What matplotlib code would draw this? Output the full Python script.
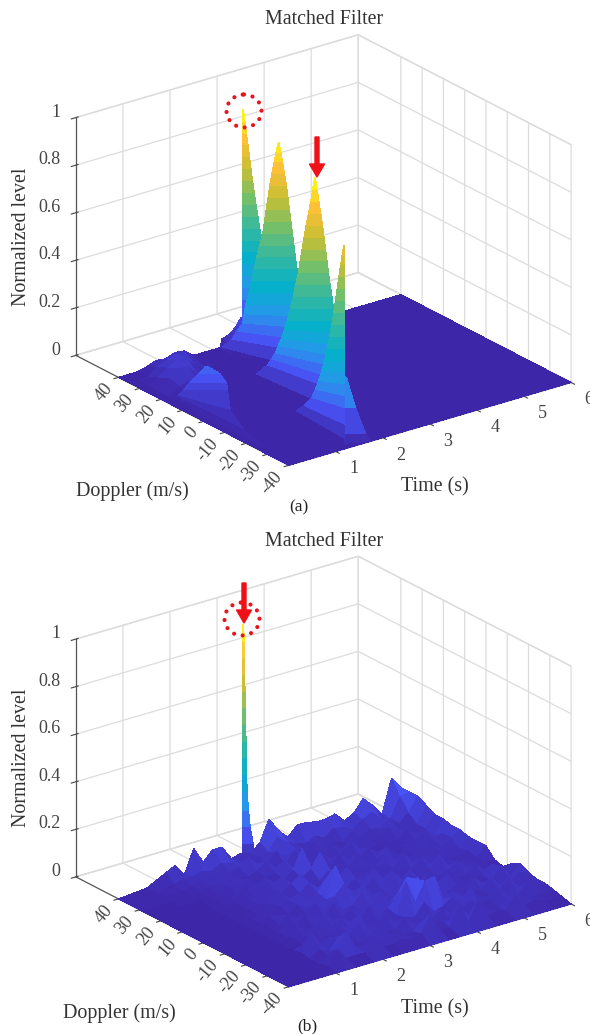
#!/usr/bin/env python
"""Matched filter delay-Doppler surfaces, panels (a) and (b)."""
import numpy as np
import matplotlib; matplotlib.use("Agg")
import matplotlib.pyplot as plt
from matplotlib.colors import LinearSegmentedColormap
from matplotlib.patches import Ellipse, FancyArrow

plt.rcParams["font.family"] = ["Liberation Serif", "DejaVu Serif"]
plt.rcParams["grid.color"] = "#dcdcdc"
plt.rcParams["grid.linewidth"] = 0.9
plt.rcParams["axes.linewidth"] = 0.9
plt.rcParams["axes.unicode_minus"] = False

parula = LinearSegmentedColormap.from_list("parula", [
    (0.2422, 0.1504, 0.6603), (0.2810, 0.3228, 0.9579), (0.1540, 0.5902, 0.9218),
    (0.0200, 0.6900, 0.8000), (0.2000, 0.7200, 0.6300), (0.4500, 0.7500, 0.4200),
    (0.7800, 0.7500, 0.2000), (0.9900, 0.7500, 0.2200), (0.9769, 0.9839, 0.0805)])

TITLE = "Matched Filter"
time_ticks = [1, 2, 3, 4, 5, 6]
doppler_ticks = [-40, -30, -20, -10, 0, 10, 20, 30, 40]
level_ticks = [0, 0.2, 0.4, 0.6, 0.8, 1]
level_labels = ["0", "0.2", "0.4", "0.6", "0.8", "1"]

# ── panel (a): level contours of each lobe ───────────────────────────────────
floor_time = [0, 6]
floor_doppler = [40, -40]
floor_level = [[0, 0], [0, 0]]

lobe1_level = [1, .95, .9, .85, .8, .75, .7, .65, .6, .55, .5, .45, .4, .35, .3, .25, .2, .1, .03]
lobe1_t_left = [2.47] * 19
lobe1_d_left = [36.5] * 19
lobe1_t_right = [2.49, 2.51, 2.53, 2.55, 2.57, 2.59, 2.61, 2.635, 2.66, 2.685, 2.71, 2.74, 2.77,
                 2.795, 2.82, 2.85, 2.88, 2.93, 2.98]
lobe1_d_right = [36.3, 36.05, 35.8, 35.5, 35.2, 34.95, 34.7, 34.45, 34.2, 33.85, 33.5, 33.15, 32.8,
                 32.45, 32.1, 31.8, 31.5, 30.8, 30.1]

lobe2_level = [.98, .94, .9, .85, .8, .75, .7, .65, .6, .55, .5, .45, .4, .35, .3, .25, .2, .15, .1, .03]
lobe2_t_left = [2.203, 2.176, 2.149, 2.118, 2.088, 2.064, 2.041, 2.017, 1.994, 1.953, 1.912, 1.878,
                1.845, 1.805, 1.764, 1.81, 1.864, 1.89, 1.92, 2.013]
lobe2_d_left = [13.7, 14.05, 14.4, 14.75, 15.1, 15.4, 15.7, 16, 16.3, 16.8, 17.3, 17.75,
                18.2, 18.7, 19.2, 21, 22.8, 26, 29.1, 35.8]
lobe2_t_right = [2.217, 2.24, 2.264, 2.291, 2.318, 2.338, 2.359, 2.38, 2.4, 2.42, 2.44, 2.46,
                 2.481, 2.5, 2.521, 2.546, 2.572, 2.576, 2.58, 2.58]
lobe2_d_right = [13.5, 13.2, 12.9, 12.6, 12.3, 12.05, 11.8, 11.55, 11.3, 11.05, 10.8, 10.5,
                 10.2, 9.95, 9.7, 9.6, 9.5, 9.3, 9.1, 9.0]

lobe3_level = [1, .95, .9, .85, .8, .75, .7, .65, .6, .55, .5, .45, .4, .35, .3, .25, .2, .15, .1, .02]
lobe3_t_left = [1.656, 1.629, 1.602, 1.571, 1.541, 1.514, 1.487, 1.46, 1.433, 1.399, 1.365, 1.325,
                1.284, 1.317, 1.35, 1.437, 1.525, 1.625, 1.725, 1.838]
lobe3_d_left = [-15.5, -15.2, -14.87, -14.5, -14.1, -13.75, -13.4, -13.1, -12.8, -12.35, -11.9, -11.4,
                -10.9, -8.8, -6.7, -3.3, 0, 4, 8.1, 15.7]
lobe3_t_right = [1.669, 1.693, 1.717, 1.74, 1.764, 1.785, 1.805, 1.825, 1.845, 1.869, 1.893, 1.913,
                 1.933, 1.941, 1.949, 1.973, 1.997, 1.997, 1.997, 1.997]
lobe3_d_right = [-15.7, -16, -16.3, -16.6, -16.9, -17.15, -17.4, -17.65, -17.9, -18.2, -18.5, -18.75,
                 -19, -19.25, -19.5, -19.5, -19.5, -19.5, -19.5, -19.5]

lobe4_level = [.83, .79, .75, .7, .65, .6, .55, .5, .45, .4, .35, .3, .25, .2, .15, .08, .02]
lobe4_t_left = [1.32, 1.307, 1.294, 1.268, 1.241, 1.215, 1.189, 1.16, 1.13, 1.093, 1.056, 1.065,
                1.075, 1.115, 1.158, 1.278, 1.411]
lobe4_d_left = [-36.6, -36.2, -35.8, -35.55, -35.3, -35.1, -34.9, -34.6, -34.3, -33.95, -33.6, -32,
                -30.4, -27.9, -25.3, -19, -12.3]
lobe4_t_right = [1.34] * 17
lobe4_d_right = [-36.8] * 17

tail_level = [.28, .15, .04, 0]
tail_t_left = [1.34] * 4
tail_d_left = [-36.8] * 4
tail_t_right = [1.346, 1.49, 1.632, 1.74]
tail_d_right = [-37.4, -38.4, -40, -40]

bump_level = [.17, .14, .10, .07, .04, .02, 0]
bump_t_left = [.41, .316, .194, .1, .07, .157, .093]
bump_d_left = [8.1, 9.2, 10.8, 11.9, 13.6, 12.3, 3.9]
bump_t_right = [.437, .6, .695, .708, .395, .183, .16]
bump_d_right = [7.7, 5.7, 4.5, 4.4, -3.9, -15.1, -23.9]

hump_time = [.2, .4, .6, .8, 1, 1.2, 1.4, 1.6]
hump_doppler = [40, 35, 30, 25, 20, 15]
hump_level = [[0, 0, .01, .025, .02, .035, .03, 0],
              [0, 0, .03, .05, .06, .06, .02, 0],
              [0, .02, .05, .07, .07, .02, 0, 0],
              [0, .04, .07, .07, .02, 0, 0, 0],
              [0, .03, .04, .01, 0, 0, 0, 0],
              [0, 0, 0, 0, 0, 0, 0, 0]]

shoulder_time = [2.16, 2.2, 2.3, 2.4, 2.5, 2.6]
shoulder_doppler = [40, 37, 34, 30]
shoulder_level = [[0, .035, .04, .05, .07, .1],
                  [0, .03, .04, .05, .07, .09],
                  [0, .01, .02, .03, .04, .05],
                  [0, 0, 0, 0, 0, 0]]

# ── panel (b): noise floor in 0.01 units, and the one narrow peak ────────────
noise_time = [0, .6, 1, 1.2, 1.4, 1.6, 1.8, 2, 2.2, 2.4, 2.6, 2.8, 3, 3.2, 3.4, 3.6, 3.8, 4,
              4.2, 4.4, 4.6, 4.8, 5, 5.2, 5.4, 5.6, 5.8, 6]
noise_doppler = [40, 36, 32, 28, 24, 20, 16, 12, 8, 4, 0, -4, -8, -12, -16, -20, -24, -28, -32, -36, -40]
noise_level = [
    [0, 1, 5, 7, 2, 12, 5, 9, 9, 3, 4, 3, 6, 15, 9, 5, 9, 9, 8, 8, 9, 5, 7, 12, 8, 3, 17, 12],
    [0, 1, 2, 3, 3, 4, 3, 5, 4, 3, 4, 3, 4, 9, 6, 4, 3, 5, 3, 6, 5, 3, 6, 8, 4, 3, 11, 12],
    [0, 1, 1, 2, 3, 4, 2, 3, 4, 7, 3, 2, 6, 3, 5, 2, 5, 2, 3, 2, 5, 2, 4, 3, 6, 3, 6, 12],
    [0, 1, 1, 1, 2, 2, 5, 2, 2, 3, 6, 2, 2, 7, 3, 2, 2, 4, 2, 2, 4, 2, 2, 5, 3, 2, 3, 10],
    [0, 0, 1, 1, 1, 3, 2, 4, 1, 2, 3, 7, 2, 3, 2, 5, 2, 2, 7, 3, 2, 2, 2, 2, 5, 2, 3, 8],
    [0, 0, 0, 1, 2, 1, 4, 2, 5, 2, 2, 5, 13, 3, 2, 2, 6, 2, 2, 5, 2, 1, 3, 2, 2, 6, 2, 8],
    [0, 0, 0, 1, 1, 3, 1, 5, 2, 6, 2, 3, 6, 12, 4, 2, 2, 7, 2, 2, 6, 2, 2, 5, 2, 3, 5, 7],
    [0, 0, 0, 1, 1, 2, 4, 2, 2, 5, 8, 2, 3, 6, 2, 5, 2, 3, 2, 6, 2, 3, 2, 2, 4, 2, 5, 7],
    [0, 0, 0, 1, 1, 3, 2, 5, 2, 3, 6, 3, 2, 4, 8, 2, 3, 2, 5, 2, 7, 2, 4, 2, 2, 5, 2, 6],
    [0, 0, 0, 1, 2, 1, 3, 4, 6, 2, 4, 9, 3, 2, 5, 3, 7, 2, 2, 3, 2, 6, 2, 5, 2, 2, 3, 6],
    [0, 0, 0, 1, 3, 2, 1, 4, 2, 7, 3, 16, 6, 3, 2, 6, 2, 7, 2, 5, 2, 3, 7, 2, 3, 2, 2, 6],
    [0, 0, 0, 1, 1, 4, 2, 2, 5, 2, 6, 10, 3, 7, 2, 3, 5, 2, 8, 2, 3, 2, 3, 6, 2, 3, 2, 2],
    [0, 0, 0, 1, 2, 1, 5, 2, 2, 6, 2, 3, 7, 2, 5, 2, 6, 3, 2, 7, 2, 5, 2, 2, 5, 2, 1, 1],
    [0, 0, 0, 1, 4, 2, 1, 6, 2, 2, 5, 2, 3, 8, 2, 6, 3, 10, 2, 3, 6, 2, 2, 3, 2, 6, 2, 4],
    [0, 0, 0, 2, 1, 3, 4, 2, 5, 2, 2, 6, 2, 3, 7, 14, 12, 7, 6, 2, 5, 2, 6, 2, 2, 7, 2, 6],
    [0, 0, 0, 1, 3, 1, 2, 5, 2, 7, 2, 2, 5, 2, 15, 5, 13, 14, 3, 5, 2, 3, 2, 6, 2, 2, 5, 4],
    [0, 0, 1, 9, 2, 4, 1, 3, 6, 2, 3, 5, 2, 3, 2, 7, 2, 3, 6, 2, 7, 2, 2, 3, 7, 2, 2, 3],
    [0, 0, 0, 3, 1, 6, 3, 2, 2, 5, 2, 2, 6, 2, 3, 2, 5, 2, 2, 5, 2, 3, 6, 2, 2, 5, 2, 3],
    [0, 0, 0, 2, 4, 10, 2, 2, 5, 2, 3, 2, 2, 5, 2, 3, 2, 6, 2, 3, 2, 2, 3, 5, 2, 2, 2, 2],
    [0, 0, 1, 6, 2, 2, 2, 8, 2, 2, 3, 2, 3, 10, 2, 2, 11, 2, 10, 2, 3, 2, 8, 2, 3, 2, 1, 1],
    [0] * 28]

spike_level = [1, .93, .86, .79, .72, .65, .58, .51, .44, .37, .3, .22, .15, .08, .02]
spike_t_left = [2.63] * 15
spike_d_left = [40] * 15
spike_t_right = [2.657, 2.664, 2.668, 2.672, 2.677, 2.681, 2.685, 2.691, 2.695, 2.699, 2.704,
                 2.724, 2.745, 2.785, 2.82]
spike_d_right = [39.9, 39.8, 39.8, 39.7, 39.7, 39.6, 39.6, 39.5, 39.4, 39.4, 39.3,
                 39.1, 38.8, 38.3, 38]


def draw_grid(ax, time, doppler, level):
    T, D = np.meshgrid(time, doppler)
    ax.plot_surface(T, D, np.array(level, dtype=float), cmap=parula, vmin=0, vmax=1,
                    rstride=1, cstride=1, linewidth=0, antialiased=False, shade=False)


def draw_lobe(ax, level, t_left, d_left, t_right, d_right):
    T = np.column_stack([t_left, t_right])
    D = np.column_stack([d_left, d_right])
    Z = np.column_stack([level, level])
    ax.plot_surface(T, D, Z, cmap=parula, vmin=0, vmax=1,
                    rstride=1, cstride=1, linewidth=0, antialiased=False, shade=False)


def setup_axes(rect):
    ax = plt.gcf().add_axes(rect, projection="3d", proj_type="ortho", computed_zorder=False)
    ax.view_init(elev=22.9, azim=-127)
    ax.set_box_aspect((1, 1, 0.73), zoom=0.926)
    ax.set_xlim(0, 6, view_margin=0)
    ax.set_ylim(-40, 60, view_margin=0)
    ax.set_zlim(0, 1, view_margin=0)
    ax.set_xticks(time_ticks)
    ax.set_yticks(doppler_ticks)
    ax.set_zticks(level_ticks)
    ax.set_zticklabels(level_labels)
    ax.tick_params(labelsize=13, colors="#444444", pad=-1)
    ax.tick_params(axis="x", pad=6)
    ax.tick_params(axis="y", labelrotation=50, pad=-6)
    # nudge labels towards where the picture has them
    for lbl in ax.get_xticklabels():
        lbl.set_ha("left"); lbl.set_va("baseline")
    for lbl in ax.get_yticklabels():
        lbl.set_ha("right"); lbl.set_va("top")
    for lbl in ax.get_zticklabels():
        lbl.set_ha("right"); lbl.set_va("baseline")
    for axis in (ax.xaxis, ax.yaxis, ax.zaxis):
        axis.set_pane_color((1, 1, 1, 1))
        axis.pane.set_edgecolor("#dcdcdc")
        axis.line.set_color("#555555")
    ax.patch.set_alpha(0)
    return ax


fig = plt.figure(figsize=(5.9, 10.34), dpi=100)

ax_a = setup_axes([20.5 / 590, 481 / 1034, 1, 590 / 1034])
draw_grid(ax_a, floor_time, floor_doppler, floor_level)
draw_grid(ax_a, hump_time, hump_doppler, hump_level)
draw_lobe(ax_a, bump_level, bump_t_left, bump_d_left, bump_t_right, bump_d_right)
draw_grid(ax_a, shoulder_time, shoulder_doppler, shoulder_level)
draw_lobe(ax_a, lobe1_level, lobe1_t_left, lobe1_d_left, lobe1_t_right, lobe1_d_right)
draw_lobe(ax_a, lobe2_level, lobe2_t_left, lobe2_d_left, lobe2_t_right, lobe2_d_right)
draw_lobe(ax_a, lobe3_level, lobe3_t_left, lobe3_d_left, lobe3_t_right, lobe3_d_right)
draw_lobe(ax_a, tail_level, tail_t_left, tail_d_left, tail_t_right, tail_d_right)
draw_lobe(ax_a, lobe4_level, lobe4_t_left, lobe4_d_left, lobe4_t_right, lobe4_d_right)

ax_b = setup_axes([20.5 / 590, -40.5 / 1034, 1, 590 / 1034])
draw_lobe(ax_b, spike_level, spike_t_left, spike_d_left, spike_t_right, spike_d_right)
draw_grid(ax_b, noise_time, noise_doppler, np.array(noise_level) / 100)

# ── labels and red markers, placed in picture pixels ─────────────────────────
over = fig.add_axes([0, 0, 1, 1], facecolor="none")
over.set_xlim(0, 590); over.set_ylim(1034, 0); over.axis("off")

text_color = "#333333"
for x, y, s, kw in [
        (324, 20, TITLE, {}), (324, 542, TITLE, {}),
        (22, 237, "Normalized level", {"rotation": 90}),
        (22, 758, "Normalized level", {"rotation": 90}),
        (132, 491, "Doppler (m/s)", {}), (119, 1013, "Doppler (m/s)", {}),
        (435, 487, "Time (s)", {}), (435, 1009, "Time (s)", {})]:
    over.text(x, y, s, ha="center", va="center", fontsize=14.4, color=text_color, **kw)
over.text(299, 507, "(a)", ha="center", va="center", fontsize=12.5, color="#222222")
over.text(307, 1026, "(b)", ha="center", va="center", fontsize=12.5, color="#222222")

for cx, cy in [(244, 111), (242, 619)]:
    ring = Ellipse((cx, cy), 35, 33, fill=False, ec="#e8141c", lw=3, ls=(0, (0.01, 2.1)))
    ring.set_capstyle("round")
    over.add_patch(ring)
over.add_patch(FancyArrow(317, 137, 0, 40, width=4, head_width=15, head_length=13,
                          length_includes_head=True, color="#f01018"))
over.add_patch(FancyArrow(244, 583, 0, 40, width=4, head_width=15, head_length=13,
                          length_includes_head=True, color="#f01018"))

fig.savefig("out.png", dpi=100)
